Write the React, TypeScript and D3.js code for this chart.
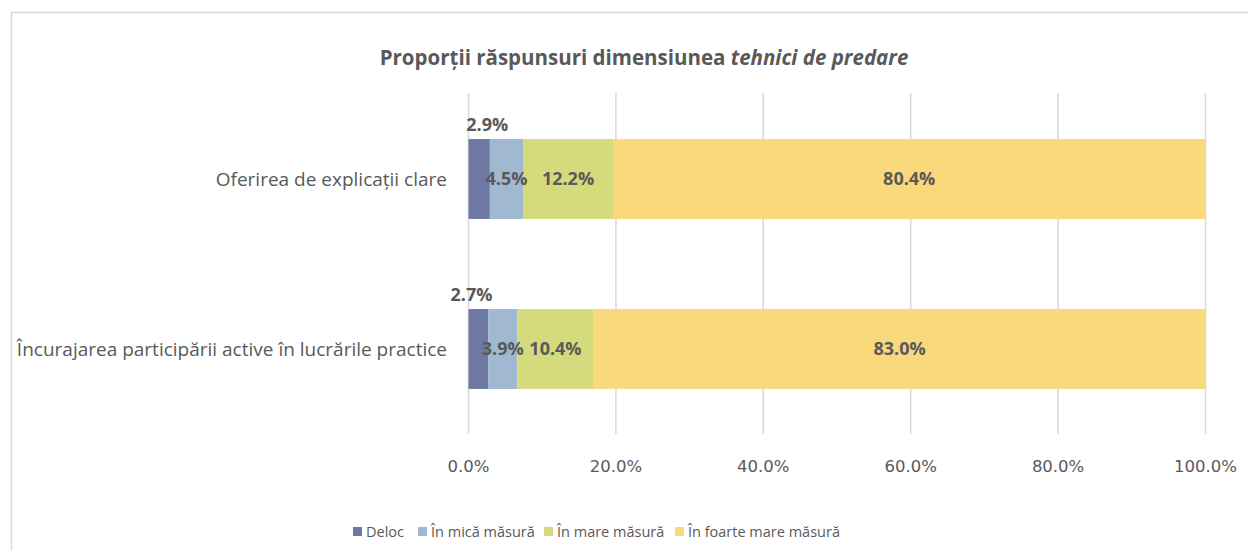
import React, { useEffect, useRef } from "react";
import * as d3 from "d3";

const categories = [
  "Oferirea de explicații clare",
  "Încurajarea participării active în lucrările practice",
];
const seriesNames = ["Deloc", "În mică măsură", "În mare măsură", "În foarte mare măsură"];
const seriesColors = ["#6E79A3", "#A0B8D0", "#D5DB7C", "#FAD97D"];
const deloc = [2.9, 2.7];
const inMica = [4.5, 3.9];
const inMare = [12.2, 10.4];
const inFoarteMare = [80.4, 83.0];
const xTicks = [0, 20, 40, 60, 80, 100];

const width = 1248;
const height = 550;
const textColor = "#595959";
// horizontal nudge of the small "Deloc" labels drawn above the bars
const smallLabelNudge = [8, -7];

export default function App() {
  const svgRef = useRef<SVGSVGElement>(null);

  useEffect(() => {
    document.body.style.margin = "0";
    const svg = d3.select(svgRef.current).attr("width", width).attr("height", height);
    svg.selectAll("*").remove();

    svg
      .append("rect")
      .attr("width", width)
      .attr("height", height)
      .attr("fill", "#fff");

    // chart border (runs off the right and bottom)
    svg
      .append("rect")
      .attr("x", 11.5)
      .attr("y", 12.5)
      .attr("width", width)
      .attr("height", height)
      .attr("fill", "none")
      .attr("stroke", "#d9d9d9")
      .attr("stroke-width", 1.5);

    // title
    const title = svg
      .append("text")
      .attr("x", 644)
      .attr("y", 65)
      .attr("text-anchor", "middle")
      .style("font-family", "'Open Sans', sans-serif")
      .style("font-size", "20.5px")
      .style("font-weight", "bold")
      .attr("fill", textColor);
    title.append("tspan").text("Proporții răspunsuri dimensiunea ");
    title.append("tspan").style("font-style", "italic").text("tehnici de predare");

    const series = [deloc, inMica, inMare, inFoarteMare];
    const rows = categories.map((c, i) => {
      let acc = 0;
      return {
        category: c,
        row: i,
        segs: series.map((s, k) => {
          const x0 = acc;
          acc += s[i];
          return { name: seriesNames[k], k, x0, x1: acc, value: s[i] };
        }),
      };
    });

    const x = d3.scaleLinear().domain([0, 100]).range([468.5, 1205.5]);
    const y = d3
      .scaleBand<string>()
      .domain(categories)
      .range([94, 434])
      .paddingInner(0.53)
      .paddingOuter(0.265);

    // vertical grid lines
    svg
      .append("g")
      .selectAll("line")
      .data(xTicks)
      .join("line")
      .attr("x1", (d) => x(d))
      .attr("x2", (d) => x(d))
      .attr("y1", 93)
      .attr("y2", 434)
      .attr("stroke", "#d9d9d9")
      .attr("stroke-width", 1.5);

    // x tick labels
    svg
      .append("g")
      .selectAll("text")
      .data(xTicks)
      .join("text")
      .attr("x", (d) => x(d))
      .attr("y", 472)
      .attr("text-anchor", "middle")
      .style("font-family", "'DejaVu Sans', sans-serif")
      .style("font-size", "16.5px")
      .attr("fill", textColor)
      .text((d) => d3.format(".1f")(d) + "%");

    // category labels
    svg
      .append("g")
      .selectAll("text")
      .data(categories)
      .join("text")
      .attr("x", 447)
      .attr("y", (d) => y(d)! + y.bandwidth() / 2)
      .attr("dy", "0.35em")
      .attr("text-anchor", "end")
      .style("font-family", "'Open Sans', sans-serif")
      .style("font-size", "19px")
      .attr("fill", textColor)
      .text((d) => d);

    // stacked bars
    rows.forEach((row) => {
      const g = svg.append("g");
      const y0 = y(row.category)!;
      g.selectAll("rect")
        .data(row.segs)
        .join("rect")
        .attr("x", (d) => x(d.x0))
        .attr("y", y0)
        .attr("width", (d) => x(d.x1) - x(d.x0))
        .attr("height", y.bandwidth())
        .attr("fill", (d) => seriesColors[d.k]);

      g.selectAll("text")
        .data(row.segs)
        .join("text")
        .attr("x", (d) =>
          d.k === 0 ? x((d.x0 + d.x1) / 2) + smallLabelNudge[row.row] : x((d.x0 + d.x1) / 2),
        )
        .attr("y", (d) => (d.k === 0 ? y0 - 14 : y0 + y.bandwidth() / 2))
        .attr("dy", "0.35em")
        .attr("text-anchor", "middle")
        .style("font-family", "'Open Sans', sans-serif")
        .style("font-size", "18px")
        .style("font-weight", "bold")
        .attr("fill", textColor)
        .text((d) => d3.format(".1f")(d.value) + "%");
    });

    // legend
    const legendX = [353, 418, 544, 675];
    const legend = svg.append("g");
    seriesNames.forEach((name, i) => {
      legend
        .append("rect")
        .attr("x", legendX[i])
        .attr("y", 527)
        .attr("width", 9)
        .attr("height", 9)
        .attr("fill", seriesColors[i]);
      legend
        .append("text")
        .attr("x", legendX[i] + 13)
        .attr("y", 532)
        .attr("dy", "0.35em")
        .style("font-family", "'Open Sans', sans-serif")
        .style("font-size", "14.5px")
        .attr("fill", textColor)
        .text(name);
    });
  }, []);

  return <svg ref={svgRef} style={{ display: "block" }} />;
}
